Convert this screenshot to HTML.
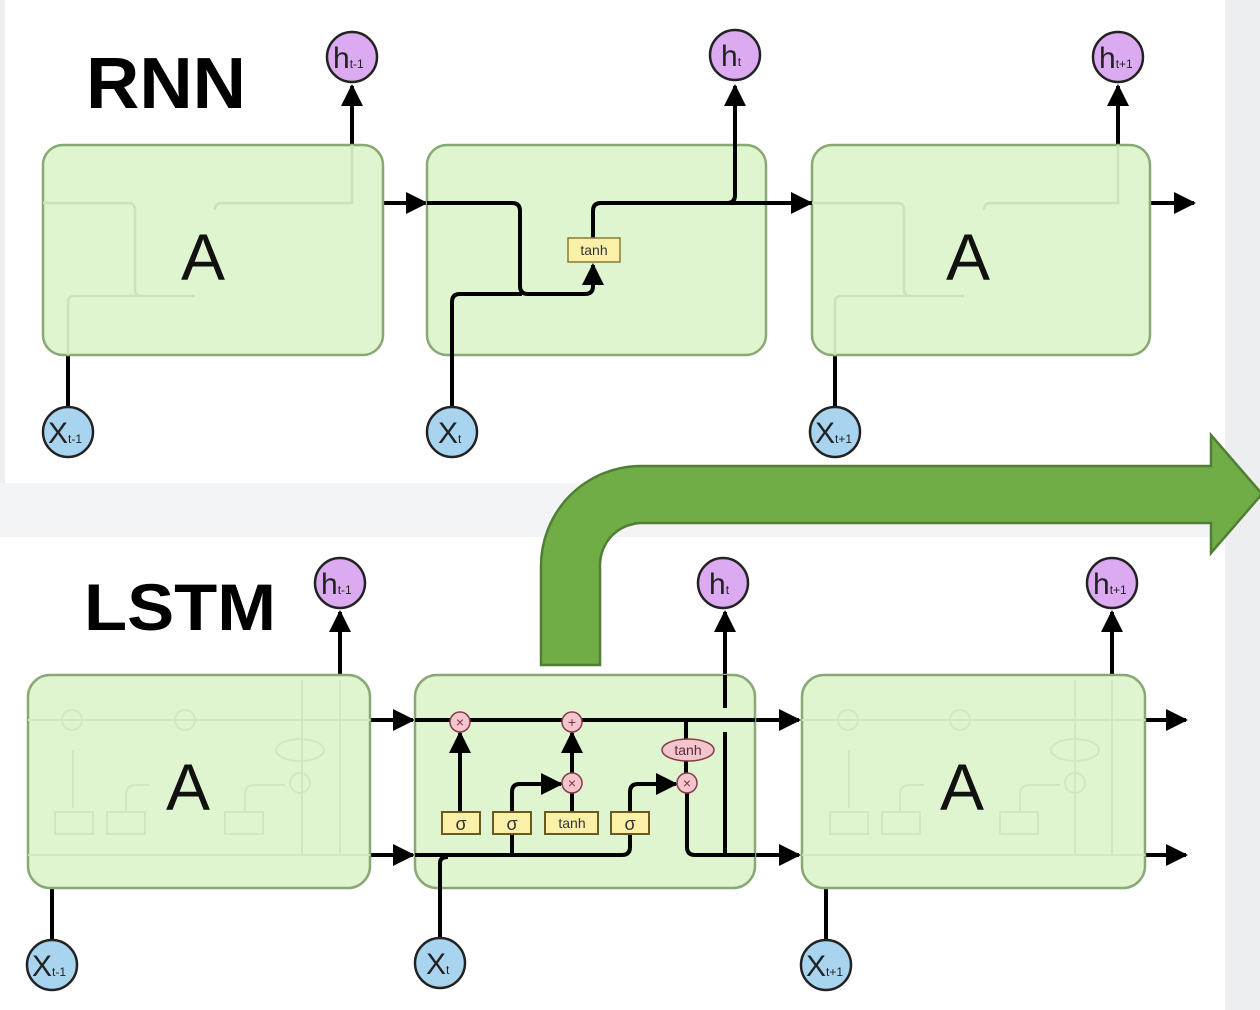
<!DOCTYPE html>
<html><head><meta charset="utf-8"><style>
html,body{margin:0;padding:0;width:1260px;height:1010px;overflow:hidden;background:#eceef0}
svg{display:block}
text{font-family:"Liberation Sans","DejaVu Sans",sans-serif}
</style></head><body>
<svg width="1260" height="1010" viewBox="0 0 1260 1010" xmlns="http://www.w3.org/2000/svg">
<defs>
<marker id="arb" markerWidth="22" markerHeight="22" refX="20" refY="11" orient="auto" markerUnits="userSpaceOnUse" viewBox="0 0 22 22">
<path d="M0,0 L22,11 L0,22 z" fill="#000"/></marker>
</defs>
<rect x="0" y="0" width="1260" height="1010" fill="#eceef0"/>
<rect x="5" y="0" width="1220" height="483" fill="#fff"/>
<rect x="0" y="537" width="1225" height="473" fill="#fff"/>
<rect x="0" y="483" width="1225" height="54" fill="#f3f4f5"/>

<!-- RNN -->
<text x="86" y="108" font-size="72" font-weight="bold" fill="#000" textLength="160" lengthAdjust="spacingAndGlyphs">RNN</text>
<g stroke="#000" stroke-width="4" fill="none">
<line x1="352" y1="145" x2="352" y2="86" marker-end="url(#arb)"/>
<line x1="68" y1="355" x2="68" y2="408"/>
<line x1="383" y1="203" x2="426" y2="203" marker-end="url(#arb)"/>
<line x1="766" y1="203" x2="811" y2="203" marker-end="url(#arb)"/>
<line x1="1150" y1="203" x2="1194" y2="203" marker-end="url(#arb)"/>
<line x1="1118" y1="145" x2="1118" y2="86" marker-end="url(#arb)"/>
<line x1="835" y1="355" x2="835" y2="408"/>
</g>
<g fill="#dff5cf" stroke="#8aa874" stroke-width="2.5">
<rect x="43" y="145" width="340" height="210" rx="20"/>
<rect x="427" y="145" width="339" height="210" rx="20"/>
<rect x="812" y="145" width="338" height="210" rx="20"/>
</g>
<g stroke="#cce2bb" stroke-width="2.5" fill="none">
<path d="M43,203 H128 Q135,203 135,210 V290 Q135,296 142,296 H195"/>
<path d="M68,355 V302 Q68,296 75,296 H140"/>
<path d="M215,210 Q215,203 222,203 H352 V145"/>
<path d="M812,203 H897 Q904,203 904,210 V290 Q904,296 911,296 H964"/>
<path d="M835,355 V302 Q835,296 842,296 H907"/>
<path d="M984,210 Q984,203 991,203 H1118 V145"/>
</g>
<g stroke="#000" stroke-width="4" fill="none" stroke-linejoin="round">
<path d="M427,203 H512 Q520,203 520,211 V286 Q520,294 528,294 H585 Q593,294 593,286 V265" marker-end="url(#arb)"/>
<path d="M452,408 V302 Q452,294 460,294 H522"/>
<path d="M593,238 V211 Q593,203 601,203 H812"/>
<path d="M727,203 Q735,203 735,195 V86" marker-end="url(#arb)"/>
</g>
<rect x="568" y="238" width="52" height="24" fill="#fbf0a8" stroke="#8a7a30" stroke-width="1.5"/>
<text x="594" y="255" font-size="14" text-anchor="middle" fill="#333">tanh</text>
<text x="203" y="280" font-size="66" text-anchor="middle" fill="#111">A</text>
<text x="968" y="280" font-size="66" text-anchor="middle" fill="#111">A</text>

<g stroke="#222" stroke-width="2.5">
<circle cx="352" cy="57" r="25" fill="#dbaaf0"/>
<circle cx="735" cy="55" r="25" fill="#dbaaf0"/>
<circle cx="1118" cy="57" r="25" fill="#dbaaf0"/>
<circle cx="68" cy="432" r="25" fill="#a8d4f0"/>
<circle cx="452" cy="432" r="25" fill="#a8d4f0"/>
<circle cx="835" cy="432" r="25" fill="#a8d4f0"/>
</g>
<g fill="#222">
<text x="333" y="68" font-size="30">h<tspan font-size="12">t-1</tspan></text>
<text x="721" y="66" font-size="30">h<tspan font-size="12">t</tspan></text>
<text x="1099" y="68" font-size="30">h<tspan font-size="12">t+1</tspan></text>
<text x="48" y="443" font-size="30">X<tspan font-size="12">t-1</tspan></text>
<text x="438" y="443" font-size="30">X<tspan font-size="12">t</tspan></text>
<text x="815" y="443" font-size="30">X<tspan font-size="12">t+1</tspan></text>
</g>

<path d="M541,665 V566 A100,100 0 0 1 641,466 H1211 V435 L1262,494 L1211,553 V523 H642 A42,42 0 0 0 600,565 V665 Z" fill="#70ad47" stroke="#507e32" stroke-width="2.5"/>

<!-- LSTM -->
<text x="84" y="630" font-size="66" font-weight="bold" fill="#000" textLength="192" lengthAdjust="spacingAndGlyphs">LSTM</text>
<g stroke="#000" stroke-width="4" fill="none">
<line x1="340" y1="675" x2="340" y2="612" marker-end="url(#arb)"/>
<line x1="52" y1="888" x2="52" y2="940"/>
<line x1="370" y1="720" x2="413" y2="720" marker-end="url(#arb)"/>
<line x1="370" y1="855" x2="413" y2="855" marker-end="url(#arb)"/>
<line x1="755" y1="720" x2="799" y2="720" marker-end="url(#arb)"/>
<line x1="755" y1="855" x2="799" y2="855" marker-end="url(#arb)"/>
<line x1="1145" y1="720" x2="1186" y2="720" marker-end="url(#arb)"/>
<line x1="1145" y1="855" x2="1186" y2="855" marker-end="url(#arb)"/>
<line x1="1112" y1="675" x2="1112" y2="612" marker-end="url(#arb)"/>
<line x1="826" y1="888" x2="826" y2="940"/>
<line x1="725" y1="675" x2="725" y2="612" marker-end="url(#arb)"/>
<line x1="440" y1="888" x2="440" y2="940"/>
</g>
<g fill="#dff5cf" stroke="#8aa874" stroke-width="2.5">
<rect x="28" y="675" width="342" height="213" rx="22"/>
<rect x="415" y="675" width="340" height="213" rx="22"/>
<rect x="802" y="675" width="343" height="213" rx="22"/>
</g>
<g stroke="#d2e6c3" stroke-width="2" fill="none">
<line x1="28" y1="720" x2="370" y2="720"/>
<line x1="28" y1="855" x2="370" y2="855"/>
<line x1="73" y1="808" x2="73" y2="750"/>
<path d="M126,812 V795 Q126,785 136,785 H150"/>
<path d="M245,812 V795 Q245,785 255,785 H285"/>
<ellipse cx="300" cy="750" rx="24" ry="11"/>
<path d="M302,680 V855 M340,680 V855"/>
<rect x="55" y="812" width="38" height="22"/><rect x="107" y="812" width="38" height="22"/><rect x="225" y="812" width="38" height="22"/>
<circle cx="72" cy="720" r="10"/><circle cx="185" cy="720" r="10"/><circle cx="300" cy="783" r="10"/>
<line x1="802" y1="720" x2="1145" y2="720"/>
<line x1="802" y1="855" x2="1145" y2="855"/>
<line x1="849" y1="808" x2="849" y2="750"/>
<path d="M900,812 V795 Q900,785 910,785 H924"/>
<path d="M1020,812 V795 Q1020,785 1030,785 H1060"/>
<ellipse cx="1075" cy="750" rx="24" ry="11"/>
<path d="M1075,680 V855 M1112,680 V855"/>
<rect x="830" y="812" width="38" height="22"/><rect x="882" y="812" width="38" height="22"/><rect x="1000" y="812" width="38" height="22"/>
<circle cx="848" cy="720" r="10"/><circle cx="960" cy="720" r="10"/><circle cx="1075" cy="783" r="10"/>
</g>
<g stroke="#000" stroke-width="4" fill="none" stroke-linejoin="round">
<line x1="415" y1="720" x2="755" y2="720"/>
<line x1="415" y1="855" x2="622" y2="855"/>
<path d="M440,890 V863 Q440,857 448,857"/>
<line x1="460" y1="812" x2="460" y2="733" marker-end="url(#arb)"/>
<line x1="572" y1="812" x2="572" y2="733" marker-end="url(#arb)"/>
<path d="M512,855 V792 Q512,784 520,784 H561" marker-end="url(#arb)"/>
<path d="M622,855 Q630,855 630,847 V792 Q630,784 638,784 H676" marker-end="url(#arb)"/>
<line x1="686" y1="720" x2="686" y2="740"/>
<line x1="686" y1="761" x2="686" y2="773"/>
<path d="M687,793 V847 Q687,855 695,855 H755"/>
<path d="M725,855 V732 M725,708 V675"/>
</g>
<g stroke="#8a3a4a" stroke-width="1.5">
<circle cx="460" cy="722" r="10" fill="#f2c6cc"/>
<circle cx="572" cy="722" r="10" fill="#f2c6cc"/>
<circle cx="572" cy="783" r="10" fill="#f2c6cc"/>
<circle cx="687" cy="783" r="10" fill="#f2c6cc"/>
<ellipse cx="688" cy="750" rx="26" ry="11" fill="#f2c6cc"/>
</g>
<g fill="#8a2a4a" font-size="14" text-anchor="middle">
<text x="460" y="727">×</text><text x="572" y="727">+</text><text x="572" y="788">×</text><text x="687" y="788">×</text>
<text x="688" y="755" font-size="14" fill="#5a2a3a">tanh</text>
</g>
<g fill="#fbf0a8" stroke="#6a5a20" stroke-width="2">
<rect x="442" y="812" width="38" height="22"/>
<rect x="493" y="812" width="38" height="22"/>
<rect x="545" y="812" width="53" height="22"/>
<rect x="611" y="812" width="38" height="22"/>
</g>
<g fill="#333" text-anchor="middle">
<text x="461" y="830" font-size="18">σ</text>
<text x="512" y="830" font-size="18">σ</text>
<text x="572" y="828" font-size="14">tanh</text>
<text x="630" y="830" font-size="18">σ</text>
</g>
<text x="188" y="810" font-size="66" text-anchor="middle" fill="#111">A</text>
<text x="962" y="810" font-size="66" text-anchor="middle" fill="#111">A</text>

<g stroke="#222" stroke-width="2.5">
<circle cx="340" cy="583" r="25" fill="#dbaaf0"/>
<circle cx="723" cy="583" r="25" fill="#dbaaf0"/>
<circle cx="1112" cy="583" r="25" fill="#dbaaf0"/>
<circle cx="52" cy="965" r="25" fill="#a8d4f0"/>
<circle cx="440" cy="963" r="25" fill="#a8d4f0"/>
<circle cx="826" cy="965" r="25" fill="#a8d4f0"/>
</g>
<g fill="#222">
<text x="321" y="594" font-size="30">h<tspan font-size="12">t-1</tspan></text>
<text x="709" y="594" font-size="30">h<tspan font-size="12">t</tspan></text>
<text x="1093" y="594" font-size="30">h<tspan font-size="12">t+1</tspan></text>
<text x="32" y="976" font-size="30">X<tspan font-size="12">t-1</tspan></text>
<text x="426" y="974" font-size="30">X<tspan font-size="12">t</tspan></text>
<text x="806" y="976" font-size="30">X<tspan font-size="12">t+1</tspan></text>
</g>
</svg>
</body></html>
